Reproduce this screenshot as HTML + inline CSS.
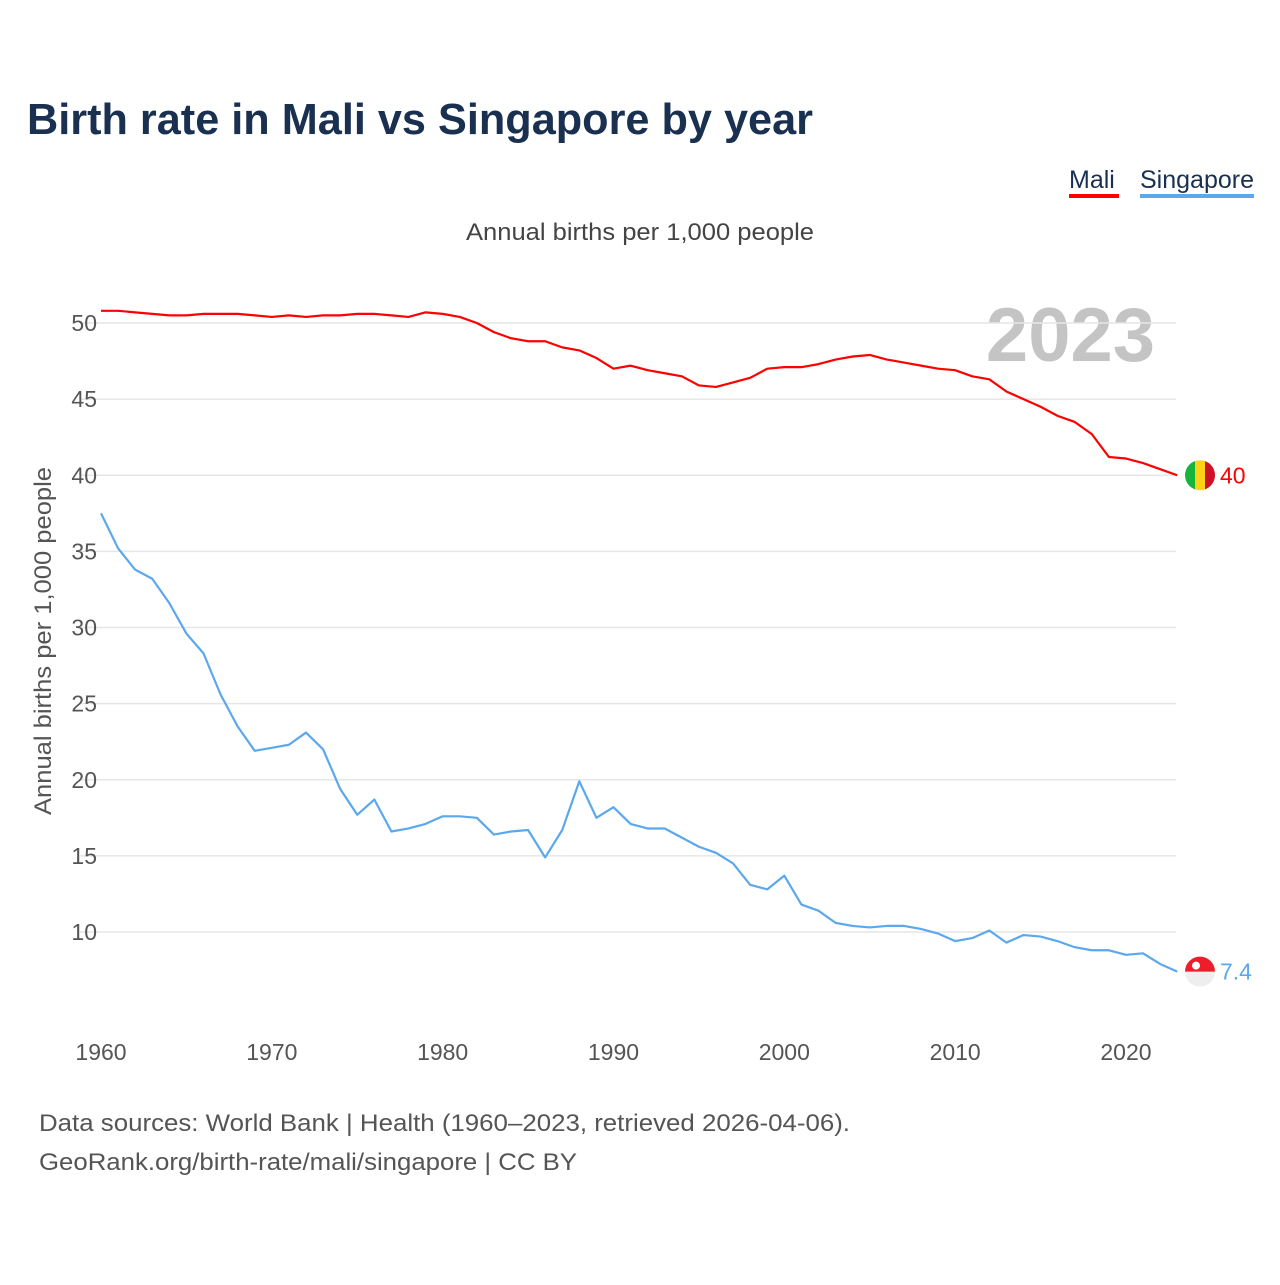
<!DOCTYPE html>
<html><head><meta charset="utf-8">
<style>
body{margin:0;background:#fff;font-family:"Liberation Sans",sans-serif;}
svg text{font-family:"Liberation Sans",sans-serif;}
</style></head>
<body>
<svg width="1280" height="1280" viewBox="0 0 1280 1280" xmlns="http://www.w3.org/2000/svg">
<text x="27" y="134" font-size="44" font-weight="bold" fill="#1a3050" textLength="786" lengthAdjust="spacingAndGlyphs">Birth rate in Mali vs Singapore by year</text>
<g>
<text x="1069" y="188" font-size="25" fill="#1a3050">Mali</text>
<rect x="1069" y="194" width="50" height="4" fill="#ff0000"/>
<text x="1140" y="188" font-size="25" fill="#1a3050">Singapore</text>
<rect x="1140" y="194" width="114" height="4" fill="#5ba8ec"/>
</g>
<text x="466" y="240" font-size="24" fill="#444" textLength="348" lengthAdjust="spacingAndGlyphs">Annual births per 1,000 people</text>
<text x="1155" y="361" font-size="76" font-weight="bold" fill="#c4c4c4" text-anchor="end">2023</text>
<text transform="translate(51,815) rotate(-90)" font-size="24" fill="#555" textLength="348" lengthAdjust="spacingAndGlyphs">Annual births per 1,000 people</text>
<g id="grid"></g><g id="yt"></g><g id="xt"></g><g id="lines"></g>
<g>
<text x="39" y="1131" font-size="24" fill="#555" textLength="811" lengthAdjust="spacingAndGlyphs">Data sources: World Bank | Health (1960–2023, retrieved 2026-04-06).</text>
<text x="39" y="1170" font-size="24" fill="#555" textLength="538" lengthAdjust="spacingAndGlyphs">GeoRank.org/birth-rate/mali/singapore | CC BY</text>
</g>
</svg>
<script>
const years=[];for(let y=1960;y<=2023;y++)years.push(y);
const mali=[50.8,50.8,50.7,50.6,50.5,50.5,50.6,50.6,50.6,50.5,50.4,50.5,50.4,50.5,50.5,50.6,50.6,50.5,50.4,50.7,50.6,50.4,50.0,49.4,49.0,48.8,48.8,48.4,48.2,47.7,47.0,47.2,46.9,46.7,46.5,45.9,45.8,46.1,46.4,47.0,47.1,47.1,47.3,47.6,47.8,47.9,47.6,47.4,47.2,47.0,46.9,46.5,46.3,45.5,45.0,44.5,43.9,43.5,42.7,41.2,41.1,40.8,40.4,40.0];
const singapore=[37.5,35.2,33.8,33.2,31.6,29.6,28.3,25.6,23.5,21.9,22.1,22.3,23.1,22.0,19.4,17.7,18.7,16.6,16.8,17.1,17.6,17.6,17.5,16.4,16.6,16.7,14.9,16.7,19.9,17.5,18.2,17.1,16.8,16.8,16.2,15.6,15.2,14.5,13.1,12.8,13.7,11.8,11.4,10.6,10.4,10.3,10.4,10.4,10.2,9.9,9.4,9.6,10.1,9.3,9.8,9.7,9.4,9.0,8.8,8.8,8.5,8.6,7.9,7.4];
const yTicks=[10,15,20,25,30,35,40,45,50];
const xTicks=[1960,1970,1980,1990,2000,2010,2020];
const NS="http://www.w3.org/2000/svg";
const X=v=>101+(v-1960)*17.083, Y=v=>932-(v-10)*15.225;
function mk(t,a,p){const e=document.createElementNS(NS,t);for(const k in a)e.setAttribute(k,a[k]);p.appendChild(e);return e;}
const grid=document.getElementById('grid'),yt=document.getElementById('yt'),xt=document.getElementById('xt'),L=document.getElementById('lines');
yTicks.forEach(v=>{
 const l=mk('line',{x1:80,x2:1176,y1:Y(v),y2:Y(v),stroke:'#e6e6e6','stroke-width':1.5},grid);
 
 
 const t=mk('text',{x:97,y:Y(v)+8,'font-size':23,fill:'#555','text-anchor':'end'},yt);t.textContent=v;
 
 
});
xTicks.forEach(v=>{
 const t=mk('text',{x:X(v),y:1060,'font-size':23,fill:'#555','text-anchor':'middle'},xt);t.textContent=v;
 
 
});
function line(d,c,n){
 const p=mk('polyline',{points:d.map((v,i)=>X(years[i])+','+Y(v)).join(' '),fill:'none',stroke:c,'stroke-width':2.2,'stroke-linejoin':'round'},L);
 
 
}
line(mali,'#ff0000','line-mali');
line(singapore,'#5ba8ec','line-singapore');
const mx=1200,my=Y(mali[mali.length-1]);
const fm=mk('g',{},L);


const cp=mk('clipPath',{id:'cm'},fm);
mk('circle',{cx:mx,cy:my,r:15},cp);
const gm=mk('g',{'clip-path':'url(#cm)'},fm);
mk('rect',{x:mx-15,y:my-15,width:10,height:30,fill:'#14b53a'},gm);
mk('rect',{x:mx-5,y:my-15,width:10,height:30,fill:'#fcd116'},gm);
mk('rect',{x:mx+5,y:my-15,width:10,height:30,fill:'#ce1126'},gm);
const tm=mk('text',{x:1220,y:my+8,'font-size':23,fill:'#ff0000'},L);tm.textContent=mali[mali.length-1];


const sy=Y(singapore[singapore.length-1]);
const fs=mk('g',{},L);


mk('circle',{cx:mx,cy:sy,r:15,fill:'#eeeeee'},fs);
mk('path',{d:`M${mx-15},${sy} A15,15 0 0 1 ${mx+15},${sy} Z`,fill:'#ef1c2a'},fs);
mk('circle',{cx:mx-4,cy:sy-6,r:4,fill:'#fff'},fs);
const ts=mk('text',{x:1220,y:sy+8,'font-size':23,fill:'#5ba8ec'},L);ts.textContent=singapore[singapore.length-1];


</script>
</body></html>
